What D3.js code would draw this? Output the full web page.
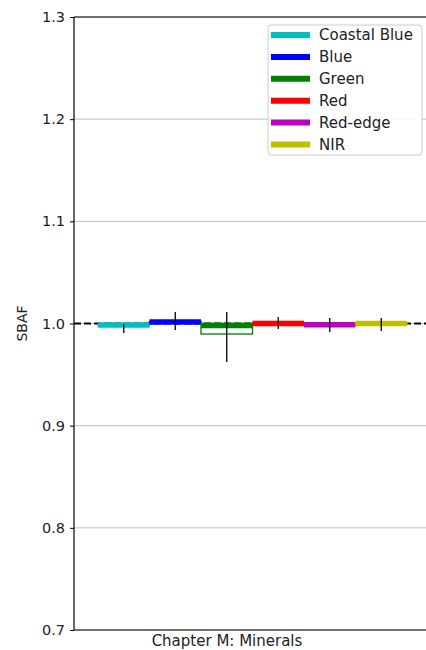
<!DOCTYPE html>
<html>
<head>
<meta charset="utf-8">
<script src="https://cdn.jsdelivr.net/npm/d3@7"></script>
<style>
  html, body { margin: 0; padding: 0; background: #fff; }
  svg { display: block; font-family: "DejaVu Sans", sans-serif; }
</style>
</head>
<body>
<svg id="chart" width="426" height="650"></svg>
<script>
// Band-wise SBAF distributions for the minerals chapter
const bands = ["Coastal Blue", "Blue", "Green", "Red", "Red-edge", "NIR"];
const bandColors = ["#00bfbf", "#0000ff", "#008000", "#ff0000", "#bf00bf", "#bfbf00"];
const medians = [0.9985, 1.0015, 0.9980, 1.0000, 0.9988, 1.0000];
const q1 = [0.9980, 1.0010, 0.9897, 0.9995, 0.9983, 0.9995];
const q3 = [0.9990, 1.0020, 1.0000, 1.0005, 0.9993, 1.0005];
const whiskerLow = [0.9907, 0.9936, 0.9623, 0.9946, 0.9917, 0.9927];
const whiskerHigh = [0.9995, 1.0113, 1.0113, 1.0064, 1.0054, 1.0054];
const yTicks = [0.7, 0.8, 0.9, 1.0, 1.1, 1.2, 1.3];
const referenceValue = 1.0;
const xLabel = "Chapter M: Minerals";
const yLabel = "SBAF";

const svg = d3.select("#chart");
const plot = { left: 74, right: 440, top: 17, bottom: 630 };

const y = d3.scaleLinear().domain([0.7, 1.3]).range([plot.bottom, plot.top]);
const x = d3.scaleBand().domain(bands).range([98, 407]).paddingInner(0).paddingOuter(0);

// horizontal grid
svg.append("g")
  .selectAll("line")
  .data(yTicks)
  .join("line")
  .attr("x1", plot.left).attr("x2", plot.right)
  .attr("y1", d => y(d)).attr("y2", d => y(d))
  .attr("stroke", "#b0b0b0").attr("stroke-width", 0.8);

// reference line at 1.0
svg.append("line")
  .attr("x1", plot.left).attr("x2", plot.right)
  .attr("y1", y(referenceValue)).attr("y2", y(referenceValue))
  .attr("stroke", "#000").attr("stroke-width", 2)
  .attr("stroke-dasharray", "7,3");

const data = bands.map((b, i) => ({
  band: b, color: bandColors[i], median: medians[i],
  q1: q1[i], q3: q3[i], lo: whiskerLow[i], hi: whiskerHigh[i]
}));

const boxes = svg.append("g").selectAll("g").data(data).join("g");

// interquartile box
boxes.append("rect")
  .attr("x", d => x(d.band))
  .attr("width", x.bandwidth())
  .attr("y", d => y(d.q3))
  .attr("height", d => y(d.q1) - y(d.q3))
  .attr("fill", "none")
  .attr("stroke", d => d.color)
  .attr("stroke-width", 1.3);

// median bar
boxes.append("line")
  .attr("x1", d => x(d.band)).attr("x2", d => x(d.band) + x.bandwidth())
  .attr("y1", d => y(d.median)).attr("y2", d => y(d.median))
  .attr("stroke", d => d.color).attr("stroke-width", 5.5);

// whiskers
boxes.append("line")
  .attr("x1", d => x(d.band) + x.bandwidth() / 2)
  .attr("x2", d => x(d.band) + x.bandwidth() / 2)
  .attr("y1", d => y(d.lo)).attr("y2", d => y(d.hi))
  .attr("stroke", "#000").attr("stroke-width", 1.3);

// y axis
const yAxis = d3.axisLeft(y).tickValues(yTicks).tickFormat(d3.format(".1f")).tickSize(4).tickPadding(5);
const yg = svg.append("g").attr("transform", `translate(${plot.left},0)`).call(yAxis);
yg.select(".domain").remove();
yg.selectAll("text").attr("font-size", 14.5).attr("fill", "#222").attr("font-family", "DejaVu Sans");
yg.selectAll(".tick line").attr("stroke", "#000").attr("stroke-width", 1);

// spines
svg.append("line").attr("x1", plot.left).attr("x2", plot.left)
  .attr("y1", plot.top).attr("y2", plot.bottom).attr("stroke", "#000").attr("stroke-width", 1.2);
svg.append("line").attr("x1", plot.left).attr("x2", plot.right)
  .attr("y1", plot.top).attr("y2", plot.top).attr("stroke", "#000").attr("stroke-width", 1.2);
svg.append("line").attr("x1", plot.left).attr("x2", plot.right)
  .attr("y1", plot.bottom).attr("y2", plot.bottom).attr("stroke", "#000").attr("stroke-width", 1.2);

// axis labels
svg.append("text")
  .attr("x", 227).attr("y", 646)
  .attr("text-anchor", "middle")
  .attr("font-size", 15).attr("fill", "#222")
  .text(xLabel);
svg.append("text")
  .attr("transform", `translate(27,${y(referenceValue)}) rotate(-90)`)
  .attr("text-anchor", "middle")
  .attr("font-size", 14).attr("fill", "#222")
  .text(yLabel);

// legend
const legend = svg.append("g").attr("transform", "translate(268,25)");
legend.append("rect")
  .attr("x", 0).attr("y", 0).attr("width", 154).attr("height", 130)
  .attr("rx", 3)
  .attr("fill", "#fff").attr("fill-opacity", 0.9)
  .attr("stroke", "#ccc").attr("stroke-width", 1);
const items = legend.selectAll("g.item").data(data).join("g")
  .attr("class", "item")
  .attr("transform", (d, i) => `translate(0,${10 + i * 21.9})`);
items.append("line")
  .attr("x1", 3).attr("x2", 42)
  .attr("y1", 0).attr("y2", 0)
  .attr("stroke", d => d.color).attr("stroke-width", 6);
items.append("text")
  .attr("x", 51).attr("y", 0).attr("dy", "0.36em")
  .attr("font-size", 15).attr("fill", "#222")
  .text(d => d.band);
</script>
</body>
</html>
